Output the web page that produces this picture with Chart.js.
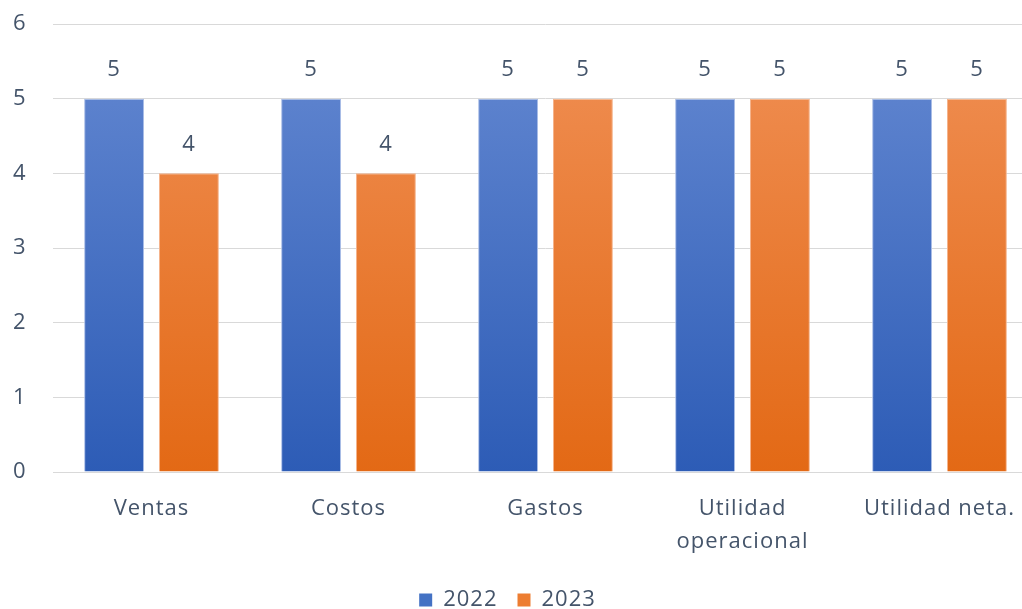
<!DOCTYPE html>
<html>
<head>
<meta charset="utf-8">
<script src="https://cdn.jsdelivr.net/npm/chart.js@4"></script>
<style>
  html, body { margin: 0; padding: 0; background: #fff; overflow: hidden; }
  #wrap { width: 1022px; height: 609px; overflow: hidden; }
  #wrap div { width: 1040px; height: 609px; }
</style>
</head>
<body>
<div id="wrap"><div><canvas id="chart" width="1040" height="609"></canvas></div></div>
<script>
const categories = ["Ventas", "Costos", "Gastos", ["Utilidad", "operacional"], "Utilidad neta."];
const values2022 = [5, 5, 5, 5, 5];
const values2023 = [4, 4, 5, 5, 5];
const yTicks = [0, 1, 2, 3, 4, 5, 6];

const textColor = '#44546a';
const fontFamily = "'Open Sans', 'Noto Sans', sans-serif";

function gradient(top, bottom) {
    return (context) => {
        const area = context.chart.chartArea;
        if (!area) return top;
        const g = context.chart.ctx.createLinearGradient(0, area.top, 0, area.bottom);
        g.addColorStop(0, top);
        g.addColorStop(1, bottom);
        return g;
    };
}

// a little spacing between letters, like the original font
const spacing = {
    id: 'spacing',
    beforeUpdate(chart) { chart.ctx.letterSpacing = '1px'; },
    beforeDraw(chart) { chart.ctx.letterSpacing = '1px'; }
};

// canvas is wider than the window, so pull the legend back to the visible middle
const legendShift = {
    id: 'legendShift',
    afterLayout(chart) {
        chart.legend.left -= 18;
        chart.legend.right -= 18;
    }
};

// prints the value above every bar
const valueLabels = {
    id: 'valueLabels',
    afterDatasetsDraw(chart) {
        const ctx = chart.ctx;
        ctx.save();
        ctx.fillStyle = textColor;
        ctx.font = "22px " + fontFamily;
        ctx.textAlign = 'center';
        ctx.textBaseline = 'middle';
        chart.data.datasets.forEach((ds, i) => {
            chart.getDatasetMeta(i).data.forEach((bar, j) => {
                ctx.fillText(ds.data[j], bar.x, bar.y - 29);
            });
        });
        ctx.restore();
    }
};

const ctx = document.getElementById('chart').getContext('2d');
const myChart = new Chart(ctx, {
    type: 'bar',
    data: {
        labels: categories,
        datasets: [
            {
                label: '2022',
                data: values2022,
                backgroundColor: gradient('#6589d2', '#2d5cb6'),
                borderColor: '#a9bde6',
                borderWidth: 1
            },
            {
                label: '2023',
                data: values2023,
                backgroundColor: gradient('#f09056', '#e36915'),
                borderColor: '#f5b48c',
                borderWidth: 1
            }
        ]
    },
    options: {
        responsive: false,
        animation: false,
        barPercentage: 0.8,
        categoryPercentage: 0.76,
        layout: { padding: { top: 24, right: 2, left: 13, bottom: -12 } },
        plugins: {
            tooltip: { enabled: false },
            legend: {
                position: 'bottom',
                labels: {
                    color: textColor,
                    font: { family: fontFamily, size: 22 },
                    boxWidth: 13,
                    boxHeight: 13,
                    padding: 20,
                    generateLabels(chart) {
                        return chart.data.datasets.map((ds, i) => ({
                            text: ds.label,
                            fillStyle: i === 0 ? '#4472c4' : '#ed7d31',
                            strokeStyle: i === 0 ? '#4472c4' : '#ed7d31',
                            lineWidth: 0,
                            fontColor: textColor,
                            datasetIndex: i
                        }));
                    }
                }
            }
        },
        scales: {
            x: {
                grid: { display: false },
                border: { color: '#d9d9d9', width: 1 },
                ticks: {
                    color: textColor,
                    font: { family: fontFamily, size: 22, lineHeight: 1.5 },
                    padding: 12,
                    maxRotation: 0,
                    autoSkip: false
                },
                afterFit(scale) { scale.height = 97; }
            },
            y: {
                min: 0,
                max: 6,
                afterBuildTicks(scale) { scale.ticks = yTicks.map(v => ({ value: v })); },
                grid: { color: '#d9d9d9', drawTicks: false },
                border: { display: false },
                ticks: {
                    color: textColor,
                    font: { family: fontFamily, size: 22 },
                    padding: 0,
                    crossAlign: 'far'
                },
                afterFit(scale) { scale.width = 40; }
            }
        }
    },
    plugins: [spacing, legendShift, valueLabels]
});
</script>
</body>
</html>
